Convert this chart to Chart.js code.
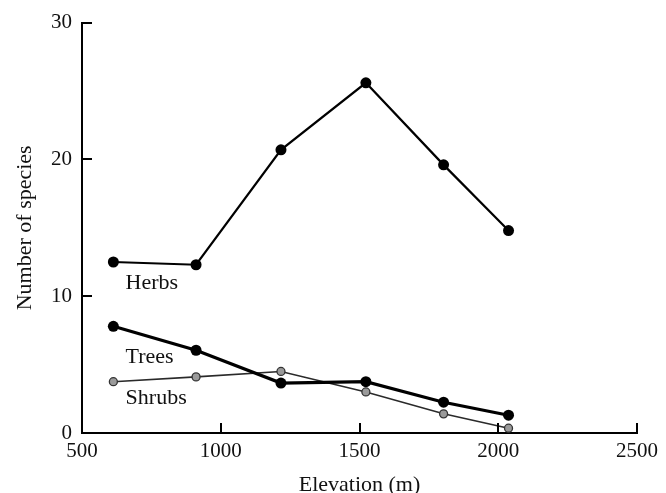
<!DOCTYPE html>
<html>
<head>
<meta charset="utf-8">
<script src="https://cdn.jsdelivr.net/npm/chart.js@4/dist/chart.umd.min.js"></script>
<style>
  html, body { margin: 0; padding: 0; background: #fff; }
  #wrap { width: 666px; height: 493px; position: relative; }
</style>
</head>
<body>
<div id="wrap"><canvas id="c" width="666" height="493"></canvas></div>
<script>
// ---- data ----
const elevation = [613, 911, 1217, 1523, 1803, 2037];
const herbs  = [12.5, 12.3, 20.7, 25.6, 19.6, 14.8];
const trees  = [7.8, 6.05, 3.65, 3.75, 2.25, 1.3];
const shrubs = [3.75, 4.1, 4.5, 3.0, 1.4, 0.35];
const xTicks = [500, 1000, 1500, 2000, 2500];
const yTicks = [0, 10, 20, 30];
// series names and where their labels sit (data coordinates)
const seriesNames = ['Herbs', 'Trees', 'Shrubs'];
const labelX = [657, 657, 657];
const labelY = [10.55, 5.15, 2.1];

const toPts = (ys) => elevation.map((x, i) => ({ x: x, y: ys[i] }));
const FONT = '"Liberation Serif", "Times New Roman", serif';

const seriesLabels = {
  id: 'seriesLabels',
  afterDatasetsDraw(chart) {
    const { ctx, scales: { x, y } } = chart;
    ctx.save();
    ctx.fillStyle = '#111';
    ctx.font = '22px ' + FONT;
    ctx.textAlign = 'left';
    ctx.textBaseline = 'alphabetic';
    seriesNames.forEach((n, i) => {
      ctx.fillText(n, x.getPixelForValue(labelX[i]), y.getPixelForValue(labelY[i]));
    });
    ctx.restore();
  }
};

// inward tick marks drawn from the scales' own tick values
const innerTicks = {
  id: 'innerTicks',
  afterDraw(chart) {
    const { ctx, scales: { x, y }, chartArea: a } = chart;
    ctx.save();
    ctx.strokeStyle = '#000';
    ctx.lineWidth = 2;
    ctx.beginPath();
    x.ticks.forEach(t => {
      const px = Math.round(x.getPixelForValue(t.value));
      ctx.moveTo(px, a.bottom);
      ctx.lineTo(px, a.bottom - 10);
    });
    y.ticks.forEach(t => {
      const py = Math.round(y.getPixelForValue(t.value));
      ctx.moveTo(a.left, py);
      ctx.lineTo(a.left + 10, py);
    });
    ctx.stroke();
    ctx.restore();
  }
};

new Chart(document.getElementById('c'), {
  type: 'line',
  data: {
    datasets: [
      { label: 'Herbs', data: toPts(herbs), borderColor: '#000', borderWidth: 2.2,
        pointRadius: 5.5, pointBackgroundColor: '#000', pointBorderColor: '#000', pointBorderWidth: 0 },
      { label: 'Trees', data: toPts(trees), borderColor: '#000', borderWidth: 3.2,
        pointRadius: 5.5, pointBackgroundColor: '#000', pointBorderColor: '#000', pointBorderWidth: 0 },
      { label: 'Shrubs', data: toPts(shrubs), borderColor: '#2a2a2a', borderWidth: 1.6,
        pointRadius: 4, pointBackgroundColor: '#9a9a9a', pointBorderColor: '#333', pointBorderWidth: 1.3 }
    ]
  },
  options: {
    responsive: false,
    animation: false,
    devicePixelRatio: 1,
    clip: false,
    layout: { padding: { top: 20, right: 29, left: 0, bottom: 0 } },
    plugins: { legend: { display: false }, tooltip: { enabled: false } },
    elements: { line: { tension: 0 } },
    scales: {
      x: {
        type: 'linear', min: 500, max: 2500,
        afterBuildTicks: (s) => { s.ticks = xTicks.map(v => ({ value: v })); },
        afterFit: (s) => { s.height = 60; },
        border: { display: true, color: '#000', width: 2 },
        grid: { display: false, drawTicks: false },
        ticks: { color: '#111', font: { family: FONT, size: 21 }, padding: 6, maxRotation: 0,
                 callback: (v) => String(v) },
        title: { display: true, text: 'Elevation (m)', color: '#111', font: { family: FONT, size: 22 }, padding: { top: 0, bottom: -5 } }
      },
      y: {
        type: 'linear', min: 0, max: 30,
        afterBuildTicks: (s) => { s.ticks = yTicks.map(v => ({ value: v })); },
        afterFit: (s) => { s.width = 82; },
        border: { display: true, color: '#000', width: 2 },
        grid: { display: false, drawTicks: false },
        ticks: { color: '#111', font: { family: FONT, size: 21 }, padding: 10,
                 callback: (v) => String(v) },
        title: { display: true, text: 'Number of species', color: '#111', font: { family: FONT, size: 22 }, padding: { top: 12, bottom: 0 } }
      }
    }
  },
  plugins: [seriesLabels, innerTicks]
});
</script>
</body>
</html>
